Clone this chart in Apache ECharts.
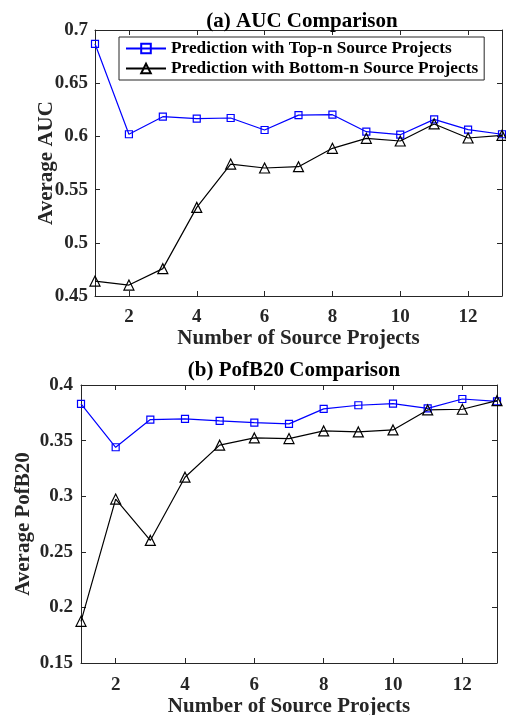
<!DOCTYPE html>
<html><head><meta charset="utf-8">
<script src="https://cdn.jsdelivr.net/npm/echarts@6/dist/echarts.min.js"></script>
<style>html,body{margin:0;padding:0;background:#fff}#c{width:506px;height:715px}</style>
</head><body><div id="c"></div>
<script>
const xs = [1,2,3,4,5,6,7,8,9,10,11,12,13];
const xTicks = [2,4,6,8,10,12];
const aucTop = [0.687,0.602,0.6185,0.6167,0.6173,0.606,0.620,0.6204,0.6044,0.6016,0.616,0.6063,0.602];
const aucBottom = [0.464,0.4603,0.4757,0.5333,0.574,0.5703,0.5715,0.5888,0.5982,0.5957,0.6117,0.5985,0.601];
const pofTop = [0.383,0.344,0.3689,0.3695,0.3677,0.3662,0.365,0.3785,0.3818,0.3832,0.379,0.3874,0.3853];
const pofBottom = [0.1875,0.2974,0.2602,0.3171,0.3459,0.3524,0.3518,0.3587,0.3578,0.3596,0.3776,0.3782,0.3859];
const names = ['Prediction with Top-n Source Projects','Prediction with Bottom-n Source Projects'];
const titles = ['(a) AUC Comparison','(b) PofB20 Comparison'];
const yNames = ['Average AUC','Average PofB20'];
const xName = 'Number of Source Projects';

const FF = 'Liberation Serif';
const TC = '#262626';
const pair = (a) => xs.map((x,i)=>[x, a[i]]);

function xAxes(gi, labelMargin, nameGap){
  return [
    {gridIndex:gi, type:'value', min:1, max:13, position:'bottom',
     name:xName, nameLocation:'middle', nameGap:nameGap, nameMoveOverlap:false,
     nameTextStyle:{fontFamily:FF,fontWeight:'bold',fontSize:21,color:TC},
     axisLine:{lineStyle:{color:TC,width:1}},
     axisTick:{inside:true,length:5,customValues:xTicks,lineStyle:{color:TC}},
     axisLabel:{customValues:xTicks,margin:labelMargin,fontFamily:FF,fontWeight:'bold',fontSize:19,color:TC},
     splitLine:{show:false}},
    {gridIndex:gi, type:'value', min:1, max:13, position:'top',
     axisLine:{lineStyle:{color:TC,width:1}},
     axisTick:{inside:true,length:5,customValues:xTicks,lineStyle:{color:TC}},
     axisLabel:{show:false}, splitLine:{show:false}}
  ];
}
function yAxes(gi, min, max, nm, gap, lm){
  return [
    {gridIndex:gi, type:'value', min:min, max:max, interval:0.05, position:'left',
     name:nm, nameLocation:'middle', nameGap:gap, nameMoveOverlap:false,
     nameTextStyle:{fontFamily:FF,fontWeight:'bold',fontSize:21,color:TC},
     axisLine:{show:true,lineStyle:{color:TC,width:1}},
     axisTick:{show:true,inside:true,length:5,lineStyle:{color:TC}},
     axisLabel:{margin:lm,fontFamily:FF,fontWeight:'bold',fontSize:19,color:TC,
       formatter:v=>String(+v.toFixed(2))},
     splitLine:{show:false}},
    {gridIndex:gi, type:'value', min:min, max:max, interval:0.05, position:'right',
     axisLine:{show:true,lineStyle:{color:TC,width:1}},
     axisTick:{show:true,inside:true,length:5,lineStyle:{color:TC}},
     axisLabel:{show:false}, splitLine:{show:false}}
  ];
}
function ser(name, data, xi, yi, color, sym, size){
  return {name:name, type:'line', xAxisIndex:xi, yAxisIndex:yi, data:data,
    symbol:sym, symbolSize:size, showSymbol:true,
    lineStyle:{color:color,width:1.2},
    itemStyle:{color:'rgba(255,255,255,0)',borderColor:color,borderWidth:1.2},
    emphasis:{disabled:true}, animation:false, z:3};
}

const chart = echarts.init(document.getElementById('c'), null, {renderer:'canvas'});
chart.setOption({
  backgroundColor:'#fff',
  animation:false,
  title:[
    {text:titles[0], left:297, top:6, textAlign:'center',
     textStyle:{fontFamily:FF,fontWeight:'bold',fontSize:21,color:'#000'}},
    {text:titles[1], left:289, top:355, textAlign:'center',
     textStyle:{fontFamily:FF,fontWeight:'bold',fontSize:21,color:'#000'}}
  ],
  legend:{
    show:true, data:names, orient:'vertical', left:119, top:37,
    backgroundColor:'#fff', borderColor:TC, borderWidth:1,
    padding:[3,6,3,6], itemGap:3, itemWidth:40, itemHeight:12,
    textStyle:{fontFamily:FF,fontWeight:'bold',fontSize:17.3,color:'#000'}
  },
  grid:[
    {left:95, right:4, top:30, bottom:419, outerBoundsMode:'none', containLabel:false},
    {left:81, right:9, top:385, bottom:52, outerBoundsMode:'none', containLabel:false}
  ],
  xAxis:[...xAxes(0,12,32), ...xAxes(1,13,33)],
  yAxis:[...yAxes(0,0.45,0.7,yNames[0],38,7), ...yAxes(1,0.15,0.4,yNames[1],47,8)],
  series:[
    ser(names[0], pair(aucTop), 0, 0, '#0000ff', 'rect', 7),
    ser(names[1], pair(aucBottom), 0, 0, '#000000', 'triangle', 10),
    ser(names[0], pair(pofTop), 2, 2, '#0000ff', 'rect', 7),
    ser(names[1], pair(pofBottom), 2, 2, '#000000', 'triangle', 10)
  ]
});
</script></body></html>
